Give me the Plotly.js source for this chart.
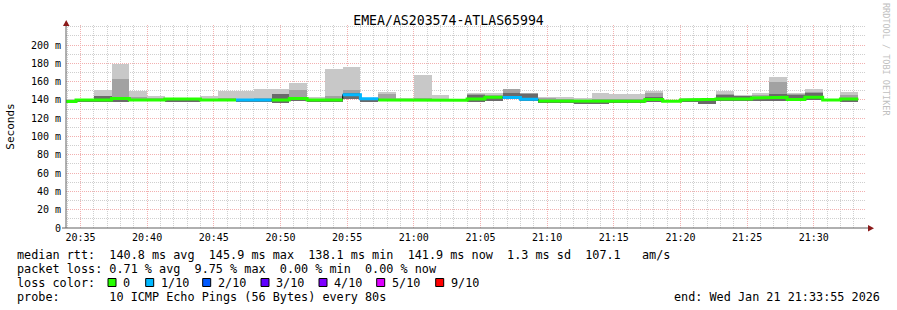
<!DOCTYPE html>
<html><head><meta charset="utf-8">
<script src="https://cdn.plot.ly/plotly-3.0.1.min.js"></script>
<style>html,body{margin:0;padding:0;background:#fff}#chart{width:897px;height:310px}</style>
</head><body><div id="chart"></div><script>
// ---------- data ----------
const chartTitle = 'EMEA/AS203574-ATLAS65994';
const yTitle = 'Seconds';
const stepSeconds = 80;
// step k ends at firstStepEnd + k*80 s
const median   = [138.3,140,140,141.5,140,140,141,141,140,140,140,140,140,141.5,140,140,145.7,141.2,140,140,140,140,139.5,141,143,142.5,140.6,138.8,138.5,138.5,138.5,138.5,138.5,140.4,138.4,140,140.6,141,141,142,142.8,140.5,143,140,141];
const loss     = [0,0,0,0,0,0,0,0,0,0,1,1,0,0,0,0,1,1,0,0,0,0,0,0,0,1,1,0,0,0,0,0,0,0,0,0,0,0,0,0,0,0,0,0,0];
const smokeMin = [137,138,138,138,138.5,138.5,137.5,137.5,138.5,138.5,138,137.5,137,138.5,138,137.5,140.5,137.5,138.5,139,139,139,138.5,137.5,139,140.5,139,137,137,135.5,136,136.5,137,138,138,138,136,139,139,139,139,139,140,139,138];
const smokeDark= [139.5,140.5,144,142,141,141,140.5,140.5,140.5,141,140.5,140.5,146,142,140.5,141,148,140.5,141,140.5,140.5,140.5,139.5,145.5,144,148,146,139.5,139,139,139,139,139,143.5,138.5,140.5,141,145.7,144,143,146.4,145.5,148,140,142];
const smokeMid = [140,141,144.3,162.8,143.2,142,141,141,141,142,141,142,146.4,150.8,141,144.6,150.8,141,146.8,141,142,141,140,146,145,152,148,142,141,140,141,141,141,148,139,141,141,147,144.5,145,159.6,146,149,140.5,145];
const smokeMax = [141,141.5,150.8,179.2,149.7,144.3,142.5,142.5,144.6,149.7,149.7,152,152,159,143.5,173.8,176,141.5,149,142,167.6,145.7,141,147.2,147.2,152,148,143.5,142.8,141.7,148,146.4,146.4,149.7,139,142,141.5,149.4,145.7,147.2,165.4,147.9,151.6,141,148.6];
const yTickVals = [0,20,40,60,80,100,120,140,160,180,200];
const yTickText = ['0','20 m','40 m','60 m','80 m','100 m','120 m','140 m','160 m','180 m','200 m'];
const lossLevels = [0,1,2,3,4,5,9];
const lossLabels = ['0','1/10','2/10','3/10','4/10','5/10','9/10'];
const lossColors = ['#26ff00','#00b8ff','#0059ff','#5e00ff','#7e00ff','#dd00ff','#ff0000'];
const statLines = [
  'median rtt:  140.8 ms avg  145.9 ms max  138.1 ms min  141.9 ms now  1.3 ms sd  107.1   am/s',
  'packet loss: 0.71 % avg  9.75 % max  0.00 % min  0.00 % now',
  'loss color:',
  'probe:       10 ICMP Echo Pings (56 Bytes) every 80s'
];
const endText = 'end: Wed Jan 21 21:33:55 2026';
const credit = 'RRDTOOL / TOBI OETIKER';

// ---------- build ----------
const T0 = Date.UTC(2026,0,21,20,34,40); // end of first step
const xStart = Date.UTC(2026,0,21,20,33,55), xEnd = Date.UTC(2026,0,21,21,33,55);
const n = median.length;
const stepEnd = median.map((_,k)=>T0 + k*stepSeconds*1000);
const stepMid = stepEnd.map(t=>t - stepSeconds*500);
const W = stepSeconds*1000;
const FONT = 'DejaVu Sans Mono';

function band(top, color){
  return {type:'bar', x:stepMid, base:smokeMin, y:top.map((v,i)=>v-smokeMin[i]), width:Array(n).fill(W),
    marker:{color:color, line:{width:0}}, hoverinfo:'skip', showlegend:false};
}
const traces = [band(smokeMax,'#c8c8c8'), band(smokeMid,'#a2a2a2'), band(smokeDark,'#6a6a6a')];

// thin black median underlay (with vertical steps)
const bx=[], by=[];
for(let k=0;k<n;k++){ bx.push(stepEnd[k]-W, stepEnd[k]); by.push(median[k], median[k]); }
traces.push({type:'scatter', mode:'lines', x:bx, y:by, line:{color:'#000', width:1}, hoverinfo:'skip', showlegend:false});

// coloured median per loss level
lossLevels.forEach((lv,li)=>{
  const xs=[], ys=[]; let prev=false;
  for(let k=0;k<n;k++){
    if(loss[k]===lv){ xs.push(stepEnd[k]-W, stepEnd[k]); ys.push(median[k], median[k]); prev=true; }
    else if(prev){ xs.push(stepEnd[k]-W); ys.push(null); prev=false; }
  }
  if(xs.length) traces.push({type:'scatter', mode:'lines', x:xs, y:ys, line:{color:lossColors[li], width:3}, connectgaps:false, hoverinfo:'skip', showlegend:false});
});

// pixel -> paper helpers (plot area 66..866 x, 25..228 y)
const L=66, R=866, TOP=25, BOT=228;
const px = x => (x-L)/(R-L);
const py = y => (BOT-y)/(BOT-TOP);
const nb = s => s.replace(/ /g,'\u00a0');

const annotations = [];
const shapes = [];
const rowY = [255, 268.5, 282.5, 296.5];
statLines.forEach((s,i)=>annotations.push({xref:'paper', yref:'paper', x:px(16), y:py(rowY[i]), xanchor:'left', yanchor:'middle',
  text:nb(s), showarrow:false, font:{family:FONT, size:11.8, color:'#000'}, borderpad:0}));
const sqX = [108,145.7,202.7,261,319,376.7,435.7];
lossLabels.forEach((lab,i)=>{
  shapes.push({type:'rect', xref:'paper', yref:'paper', x0:px(sqX[i]), x1:px(sqX[i]+8), y0:py(286.5), y1:py(278.5),
    fillcolor:lossColors[i], line:{color:'#000', width:1}});
  annotations.push({xref:'paper', yref:'paper', x:px(sqX[i]+14), y:py(rowY[2]), xanchor:'left', yanchor:'middle',
    text:nb(lab), showarrow:false, font:{family:FONT, size:11.8, color:'#000'}, borderpad:0});
});
annotations.push({xref:'paper', yref:'paper', x:px(881), y:py(rowY[3]), xanchor:'right', yanchor:'middle',
  text:nb(endText), showarrow:false, font:{family:FONT, size:11.8, color:'#000'}, borderpad:0});
annotations.push({xref:'paper', yref:'paper', x:px(886), y:py(60), xanchor:'center', yanchor:'middle', textangle:90,
  text:nb(credit), showarrow:false, font:{family:FONT, size:8.5, color:'#c0c0c0'}, borderpad:0});

// axes lines + arrows
shapes.push({type:'line', xref:'paper', yref:'paper', x0:0, x1:0, y0:py(BOT), y1:py(24), line:{color:'#606060', width:1}, layer:'above'});
shapes.push({type:'line', xref:'paper', yref:'paper', x0:px(62), x1:px(869), y0:0, y1:0, line:{color:'#606060', width:1}, layer:'above'});
shapes.push({type:'path', xref:'paper', yref:'paper', path:`M ${px(63)} ${py(26)} L ${px(69.5)} ${py(26)} L ${px(66.2)} ${py(20)} Z`, fillcolor:'#8b1a1a', line:{width:0}, layer:'above'});
shapes.push({type:'path', xref:'paper', yref:'paper', path:`M ${px(868)} ${py(225)} L ${px(868)} ${py(231.5)} L ${px(874)} ${py(228.2)} Z`, fillcolor:'#8b1a1a', line:{width:0}, layer:'above'});

const layout = {
  width:897, height:310,
  margin:{l:L, r:897-R, t:TOP, b:310-BOT, pad:0},
  paper_bgcolor:'#fff', plot_bgcolor:'#fff',
  barmode:'overlay', bargap:0,
  showlegend:false,
  font:{family:FONT, size:10, color:'#000'},
  title:{text:chartTitle, x:0.5, xref:'container', xanchor:'center', yref:'container', y:1-20/310, yanchor:'middle', font:{family:FONT, size:13.2, color:'#000'}},
  xaxis:{type:'date', range:[xStart,xEnd], tick0:Date.UTC(2026,0,21,20,35,0), dtick:300000, tickformat:'%H:%M',
    showgrid:true, gridcolor:'#f2b0b0', griddash:'1px,1px', gridwidth:1,
    minor:{dtick:60000, showgrid:true, gridcolor:'#cfcfcf', griddash:'1px,1px', gridwidth:1},
    showline:false, zeroline:false, ticks:'', ticklabelstandoff:2, tickfont:{family:FONT, size:10, color:'#000'}, fixedrange:true},
  yaxis:{range:[0,(BOT-TOP)/0.915], tickmode:'array', tickvals:yTickVals, ticktext:yTickText,
    showgrid:true, gridcolor:'#f2b0b0', griddash:'1px,1px', gridwidth:1,
    minor:{tickmode:'linear', tick0:0, dtick:10, showgrid:true, gridcolor:'#cfcfcf', griddash:'1px,1px', gridwidth:1},
    showline:false, zeroline:false, ticks:'', ticklabelstandoff:4, tickfont:{family:FONT, size:10, color:'#000'},
    title:{text:yTitle, standoff:14, font:{family:FONT, size:11, color:'#000'}}, fixedrange:true},
  annotations:annotations, shapes:shapes
};
Plotly.newPlot('chart', traces, layout, {displayModeBar:false, staticPlot:true});
</script></body></html>
